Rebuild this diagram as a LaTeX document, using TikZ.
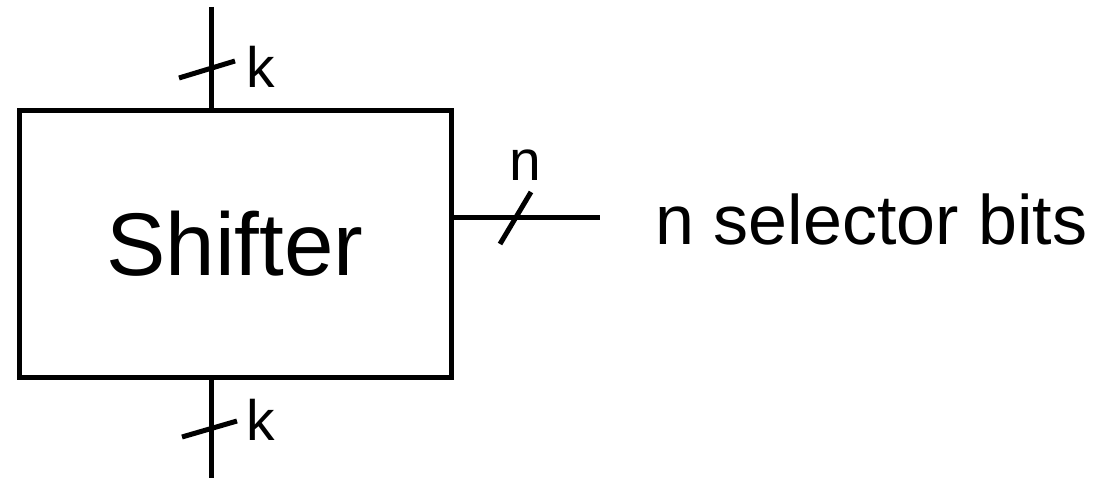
\documentclass[tikz,border=0pt]{standalone}
\usepackage{fontspec}
\setmainfont{Liberation Sans}
\begin{document}
\begin{tikzpicture}[x=1pt,y=-1pt,line width=5pt]
\tikzset{blk/.style={draw,minimum width=432pt,minimum height=266pt,inner sep=0pt,font=\fontsize{89}{100}\selectfont},
  bus/.style={inner sep=0pt,font=\fontsize{57}{60}\selectfont}}
\useasboundingbox (0,0) rectangle (1097,478);
\node[blk] (shift) at (235,244) {Shifter};
\coordinate (din) at (211,7);
\coordinate (dout) at (211,478);
\coordinate (sel) at (600,218);
\draw (din) -- (din |- shift.north);
\draw (shift.south -| dout) -- (dout);
\draw (shift.east |- sel) -- (sel);
\draw (179,78) -- (235,61); \draw (182,437) -- (237,421); \draw (500,244) -- (531,192);
\node[bus,anchor=base west] (kin) at (244,88) {k};
\node[bus,anchor=base west] (kout) at (244,440) {k};
\node[bus,anchor=base] (nsel) at (525,181) {n};
\node[inner sep=0pt,anchor=base west,font=\fontsize{70}{72}\selectfont] (seltxt) at (653,245) {n selector bits};
\end{tikzpicture}
\end{document}
